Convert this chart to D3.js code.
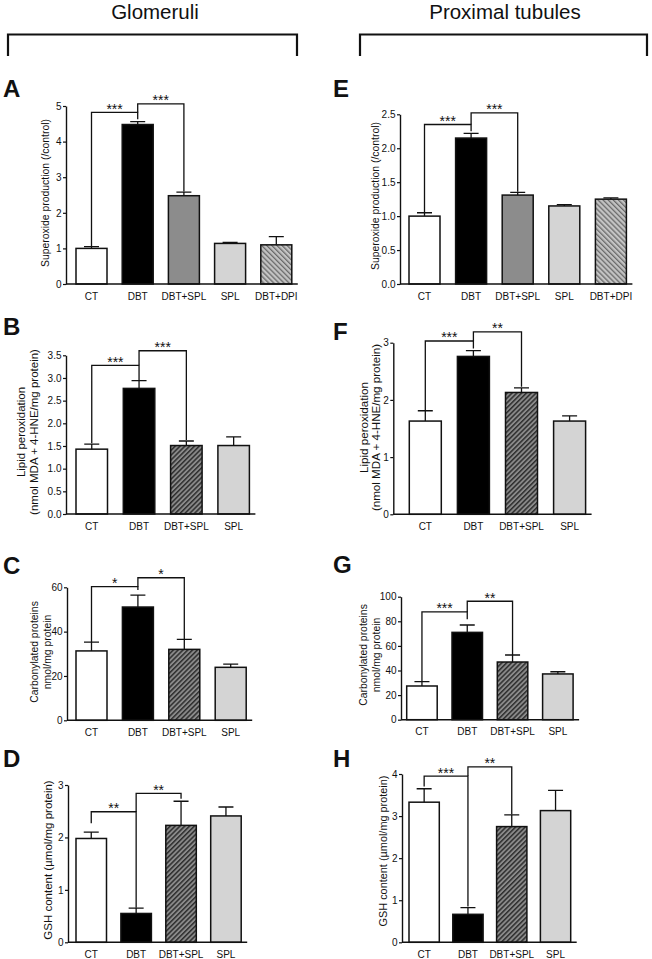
<!DOCTYPE html>
<html><head><meta charset="utf-8">
<script src="https://cdn.jsdelivr.net/npm/d3@7"></script>
<style>body{margin:0;background:#fff} svg{display:block;font-family:"Liberation Sans",Arial,sans-serif}</style>
</head><body><svg id="c" width="652" height="959"></svg>
<script>
// ---------- data ----------
const categories5 = ["CT","DBT","DBT+SPL","SPL","DBT+DPI"];
const categories4 = ["CT","DBT","DBT+SPL","SPL"];

const valuesA = [1.00, 4.48, 2.48, 1.14, 1.10];
const errorsA = [0.05, 0.08, 0.10, 0.03, 0.23];
const ticksA = [0,1,2,3,4,5];
const sigA = [{from:0,to:1,level:4.82,leftEnd:1.05,rightEnd:4.63,label:"***"},
              {from:1,to:2,level:5.06,leftEnd:4.82,rightEnd:2.60,label:"***"}];

const valuesE = [1.00, 2.15, 1.31, 1.15, 1.25];
const errorsE = [0.05, 0.07, 0.04, 0.02, 0.02];
const ticksE = [0,0.5,1,1.5,2,2.5];
const sigE = [{from:0,to:1,level:2.35,leftEnd:1.06,rightEnd:2.25,label:"***"},
              {from:1,to:2,level:2.52,leftEnd:2.35,rightEnd:1.36,label:"***"}];

const valuesB = [1.43, 2.77, 1.51, 1.51];
const errorsB = [0.11, 0.17, 0.10, 0.19];
const ticksB = [0,0.5,1,1.5,2,2.5,3,3.5];
const sigB = [{from:0,to:1,level:3.28,leftEnd:1.56,rightEnd:2.95,label:"***"},
              {from:1,to:2,level:3.60,leftEnd:3.28,rightEnd:1.63,label:"***"}];

const valuesF = [1.63, 2.76, 2.13, 1.63];
const errorsF = [0.18, 0.10, 0.08, 0.09];
const ticksF = [0,1,2,3];
const sigF = [{from:0,to:1,level:3.03,leftEnd:1.82,rightEnd:2.90,label:"***"},
              {from:1,to:2,level:3.19,leftEnd:3.03,rightEnd:2.23,label:"**"}];

const valuesC = [31.3, 51.1, 32.0, 23.9];
const errorsC = [4.0, 5.4, 4.5, 1.4];
const ticksC = [0,20,40,60];
const sigC = [{from:0,to:1,level:60.3,leftEnd:35.3,rightEnd:58.8,label:"*"},
              {from:1,to:2,level:64.3,leftEnd:60.3,rightEnd:36.5,label:"*"}];

const valuesG = [27.4, 71.0, 46.9, 37.2];
const errorsG = [3.5, 6.0, 5.7, 1.8];
const ticksG = [0,20,40,60,80,100];
const sigG = [{from:0,to:1,level:87.6,leftEnd:31.0,rightEnd:81.6,label:"***"},
              {from:1,to:2,level:96.3,leftEnd:87.6,rightEnd:52.6,label:"**"}];

const valuesD = [1.98, 0.55, 2.23, 2.41];
const errorsD = [0.12, 0.10, 0.46, 0.17];
const ticksD = [0,1,2,3];
const sigD = [{from:0,to:1,level:2.49,leftEnd:2.27,rightEnd:0.66,label:"**"},
              {from:1,to:2,level:2.84,leftEnd:2.49,rightEnd:2.74,label:"**"}];

const valuesH = [3.33, 0.665, 2.75, 3.13];
const errorsH = [0.32, 0.16, 0.28, 0.48];
const ticksH = [0,1,2,3,4];
const sigH = [{from:0,to:1,level:3.95,leftEnd:3.70,rightEnd:0.85,label:"***"},
              {from:1,to:2,level:4.17,leftEnd:3.95,rightEnd:3.04,label:"**"}];

const headers = ["Glomeruli","Proximal tubules"];

// ---------- drawing ----------
const svg = d3.select("#c");
const defs = svg.append("defs");
const hatch = defs.append("pattern").attr("id","hatch").attr("patternUnits","userSpaceOnUse")
  .attr("width",3.4).attr("height",3.4).attr("patternTransform","rotate(45)");
hatch.append("rect").attr("width",3.4).attr("height",3.4).attr("fill","#8a8a8a");
hatch.append("rect").attr("width",1.5).attr("height",3.4).attr("fill","#2e2e2e");
const dpi = defs.append("pattern").attr("id","dpi").attr("patternUnits","userSpaceOnUse")
  .attr("width",3.6).attr("height",3.6).attr("patternTransform","rotate(-45)");
dpi.append("rect").attr("width",3.6).attr("height",3.6).attr("fill","#c4c4c4");
dpi.append("rect").attr("width",1.3).attr("height",3.6).attr("fill","#6a6a6a");

const fills5 = ["#ffffff","#000000","#8c8c8c","#d4d4d4","url(#dpi)"];
const fills4 = ["#ffffff","#000000","url(#hatch)","#d4d4d4"];

// headers with brackets
const headerCfg = [{cx:155, x0:8, x1:297},{cx:505, x0:360, x1:647}];
headers.forEach((h,i)=>{
  const c = headerCfg[i];
  svg.append("text").attr("x",c.cx).attr("y",19).attr("text-anchor","middle")
    .attr("font-size",20.5).attr("fill","#111").text(h);
  svg.append("path").attr("d",`M${c.x0},56V34.5H${c.x1}V56`).attr("fill","none")
    .attr("stroke","#111").attr("stroke-width",2.2);
});

const panels = [
  {letter:"A", lx:3, ly:97, cats:categories5, vals:valuesA, errs:errorsA, ticks:ticksA, fmt:d3.format("d"), dom:[0,5],
   ax:66, y0:284, yTop:106, barL:76, step:46.2, barW:31, fills:fills5, sig:sigA,
   title:["Superoxide production (/control)"], tx:[45], ty:193, ts:10.4},
  {letter:"E", lx:333, ly:97, cats:categories5, vals:valuesE, errs:errorsE, ticks:ticksE, fmt:d3.format(".1f"), dom:[0,2.5],
   ax:400, y0:284, yTop:114.3, barL:409, step:46.6, barW:31, fills:fills5, sig:sigE,
   title:["Superoxide production (/control)"], tx:[375], ty:196, ts:10.4},
  {letter:"B", lx:3, ly:335, cats:categories4, vals:valuesB, errs:errorsB, ticks:ticksB, fmt:d3.format(".1f"), dom:[0,3.5],
   ax:66, y0:514, yTop:355.3, barL:76, step:47.3, barW:31.5, fills:fills4, sig:sigB,
   title:["Lipid peroxidation","(nmol MDA + 4-HNE/mg protein)"], tx:[21,34], ty:432, ts:11.5},
  {letter:"F", lx:333, ly:340, cats:categories4, vals:valuesF, errs:errorsF, ticks:ticksF, fmt:d3.format("d"), dom:[0,3],
   ax:393.3, y0:514.3, yTop:342.7, barL:409.3, step:48.1, barW:32, fills:fills4, sig:sigF,
   title:["Lipid peroxidation","(nmol MDA + 4-HNE/mg protein)"], tx:[363,375.5], ty:427.5, ts:11.6},
  {letter:"C", lx:3, ly:574, cats:categories4, vals:valuesC, errs:errorsC, ticks:ticksC, fmt:d3.format("d"), dom:[0,60],
   ax:67, y0:720.3, yTop:587.3, barL:76, step:46.4, barW:31, fills:fills4, sig:sigC,
   title:["Carbonylated proteins","nmol/mg protein"], tx:[34,47], ty:652, ts:10.4},
  {letter:"G", lx:333, ly:573, cats:categories4, vals:valuesG, errs:errorsG, ticks:ticksG, fmt:d3.format("d"), dom:[0,100],
   ax:401, y0:719.7, yTop:596.7, barL:406.7, step:45.3, barW:30.5, fills:fills4, sig:sigG,
   title:["Carbonylated proteins","nmol/mg protein"], tx:[363,376], ty:655, ts:10.4},
  {letter:"D", lx:3, ly:767, cats:categories4, vals:valuesD, errs:errorsD, ticks:ticksD, fmt:d3.format("d"), dom:[0,3],
   ax:68, y0:942.3, yTop:785, barL:76, step:44.9, barW:30.5, fills:fills4, sig:sigD,
   title:["GSH content (µmol/mg protein)"], tx:[48], ty:860, ts:11.5},
  {letter:"H", lx:333, ly:767, cats:categories4, vals:valuesH, errs:errorsH, ticks:ticksH, fmt:d3.format("d"), dom:[0,4],
   ax:402, y0:942.3, yTop:774, barL:409, step:43.8, barW:30.3, fills:fills4, sig:sigH,
   title:["GSH content (µmol/mg protein)"], tx:[383], ty:851, ts:10.9}
];

const INK = "#111";
panels.forEach(p=>{
  const g = svg.append("g");
  const n = p.cats.length;
  const x = d3.scaleBand().domain(p.cats)
    .range([p.barL, p.barL + n*p.step - (p.step - p.barW)])
    .paddingInner(1 - p.barW/p.step).paddingOuter(0);
  const y = d3.scaleLinear().domain(p.dom).range([p.y0, p.yTop]);
  const cx = c => x(c) + x.bandwidth()/2;

  // letter
  g.append("text").attr("x",p.lx).attr("y",p.ly).attr("font-size",24).attr("font-weight","bold")
    .attr("fill",INK).text(p.letter);

  // y title
  p.title.forEach((t,i)=>{
    g.append("text").attr("transform",`translate(${p.tx[i]},${p.ty}) rotate(-90)`)
      .attr("text-anchor","middle").attr("dominant-baseline","central")
      .attr("font-size",p.ts).attr("fill",INK).text(t);
  });

  // bars
  g.selectAll("rect.bar").data(p.cats).join("rect").attr("class","bar")
    .attr("x",c=>x(c)).attr("width",x.bandwidth())
    .attr("y",(c,i)=>y(p.vals[i])).attr("height",(c,i)=>p.y0 - y(p.vals[i]))
    .attr("fill",(c,i)=>p.fills[i]).attr("stroke",INK).attr("stroke-width",1.5);

  // error bars
  const cap = 7.5;
  g.selectAll("path.err").data(p.cats).join("path").attr("class","err")
    .attr("d",(c,i)=>{
      const xc = cx(c), yt = y(p.vals[i]+p.errs[i]), yb = y(p.vals[i]);
      return `M${xc},${yb}V${yt}M${xc-cap},${yt}H${xc+cap}`;
    })
    .attr("fill","none").attr("stroke",INK).attr("stroke-width",1.3);

  // y axis
  const ya = d3.axisLeft(y).tickValues(p.ticks).tickFormat(p.fmt).tickSize(3).tickSizeOuter(0).tickPadding(1.5);
  const yg = g.append("g").attr("transform",`translate(${p.ax},0)`).call(ya);
  yg.select(".domain").attr("stroke",INK).attr("stroke-width",1.4);
  yg.selectAll(".tick line").attr("stroke",INK).attr("stroke-width",1.2);
  yg.selectAll(".tick text").attr("font-size",10).attr("fill",INK).attr("font-family",null);

  // x axis
  const xEnd = x.range()[1] + 6;
  g.append("line").attr("x1",p.ax).attr("x2",xEnd).attr("y1",p.y0).attr("y2",p.y0)
    .attr("stroke",INK).attr("stroke-width",1.4);
  const xa = d3.axisBottom(x).tickSize(0).tickPadding(8.5);
  const xg = g.append("g").attr("transform",`translate(0,${p.y0})`).call(xa);
  xg.select(".domain").remove();
  xg.selectAll(".tick text").attr("font-size",10).attr("fill",INK).attr("font-family",null);

  // significance brackets
  p.sig.forEach(s=>{
    const xl = cx(p.cats[s.from]), xr = cx(p.cats[s.to]), yl = y(s.level);
    g.append("path").attr("d",`M${xl},${y(s.leftEnd)}V${yl}H${xr}V${y(s.rightEnd)}`)
      .attr("fill","none").attr("stroke",INK).attr("stroke-width",1.3);
    g.append("text").attr("x",(xl+xr)/2).attr("y",yl+1.5).attr("text-anchor","middle")
      .attr("font-size",14).attr("fill",INK).text(s.label);
  });
});
</script></body></html>
